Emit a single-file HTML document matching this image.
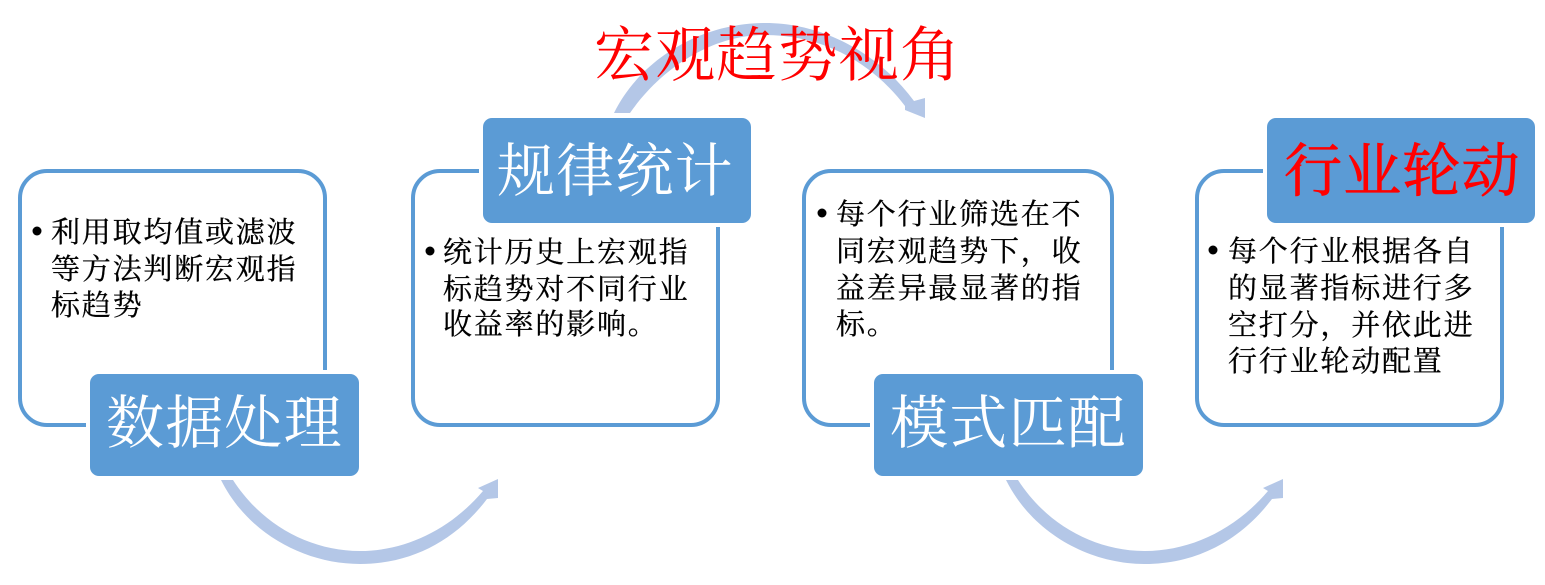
<!DOCTYPE html>
<html lang="zh">
<head>
<meta charset="utf-8">
<style>
html,body{margin:0;padding:0;background:#fff;width:1545px;height:585px;overflow:hidden}
svg{display:block}
.b{font-family:"Liberation Serif","Noto Serif CJK SC",serif;font-size:29px;letter-spacing:1.8px;fill:#000;stroke:#000;stroke-width:.3px}
.l{font-family:"Liberation Serif","Noto Serif CJK SC",serif;font-size:58px;letter-spacing:1.2px;fill:#fff}
.t{font-family:"Liberation Serif","Noto Serif CJK SC",serif;font-size:60px;letter-spacing:1.2px;fill:#f00}
</style>
</head>
<body>
<svg width="1545" height="585" viewBox="0 0 1545 585" xmlns="http://www.w3.org/2000/svg">
<g fill="#b4c7e7">
<path d="M221,480 C248,534 305,564 360,564 C412,564 456,540 487,499 L498,498 L498,479 L478,488 L483,491 C450,530 405,551 360,551 C310,551 262,525 233,480 Z"/>
<path transform="translate(785,0)" d="M221,480 C248,534 305,564 360,564 C412,564 456,540 487,499 L498,498 L498,479 L478,488 L483,491 C450,530 405,551 360,551 C310,551 262,525 233,480 Z"/>
<path d="M614,113 C640,60 700,23 765,23 C825,23 880,55 914,101 L925,98 L925,118 L905,110 L905,106 C870,60 820,35 765,35 C710,35 660,70 630,113 Z"/>
</g>
<g fill="none" stroke="#5b9bd5" stroke-width="4">
<rect x="20" y="171" width="305" height="254" rx="27"/>
<rect x="413" y="171" width="305" height="254" rx="27"/>
<rect x="804" y="171" width="308" height="254" rx="27"/>
<rect x="1197" y="171" width="305" height="254" rx="27"/>
</g>
<g fill="#5b9bd5" stroke="#fff" stroke-width="8" paint-order="stroke">
<rect x="90" y="374" width="269" height="102" rx="9"/>
<rect x="483" y="118" width="268" height="105" rx="9"/>
<rect x="874" y="374" width="269" height="102" rx="9"/>
<rect x="1267" y="118" width="268" height="105" rx="9"/>
</g>
<text class="t" x="594" y="76">宏观趋势视角</text>
<text class="l" x="106" y="443">数据处理</text>
<text class="l" x="497" y="191">规律统计</text>
<text class="l" x="890" y="443">模式匹配</text>
<text class="l" x="1284" y="191" style="fill:#f00;stroke:#f00;stroke-width:.8px">行业轮动</text>
<g fill="#000">
<circle cx="37" cy="231" r="4.5"/>
<circle cx="430" cy="251" r="4.5"/>
<circle cx="822" cy="213" r="4.5"/>
<circle cx="1213" cy="250" r="4.5"/>
</g>
<g>
<text class="b" x="51" y="242">利用取均值或滤波</text>
<text class="b" x="51" y="279">等方法判断宏观指</text>
<text class="b" x="51" y="315">标趋势</text>
<text class="b" x="443" y="262">统计历史上宏观指</text>
<text class="b" x="443" y="299">标趋势对不同行业</text>
<text class="b" x="443" y="334">收益率的影响。</text>
<text class="b" x="836" y="224">每个行业筛选在不</text>
<text class="b" x="836" y="261">同宏观趋势下，收</text>
<text class="b" x="836" y="298">益差异最显著的指</text>
<text class="b" x="836" y="334">标。</text>
<text class="b" x="1228" y="261">每个行业根据各自</text>
<text class="b" x="1228" y="298">的显著指标进行多</text>
<text class="b" x="1228" y="335">空打分，并依此进</text>
<text class="b" x="1228" y="371">行行业轮动配置</text>
</g>
</svg>
</body>
</html>
